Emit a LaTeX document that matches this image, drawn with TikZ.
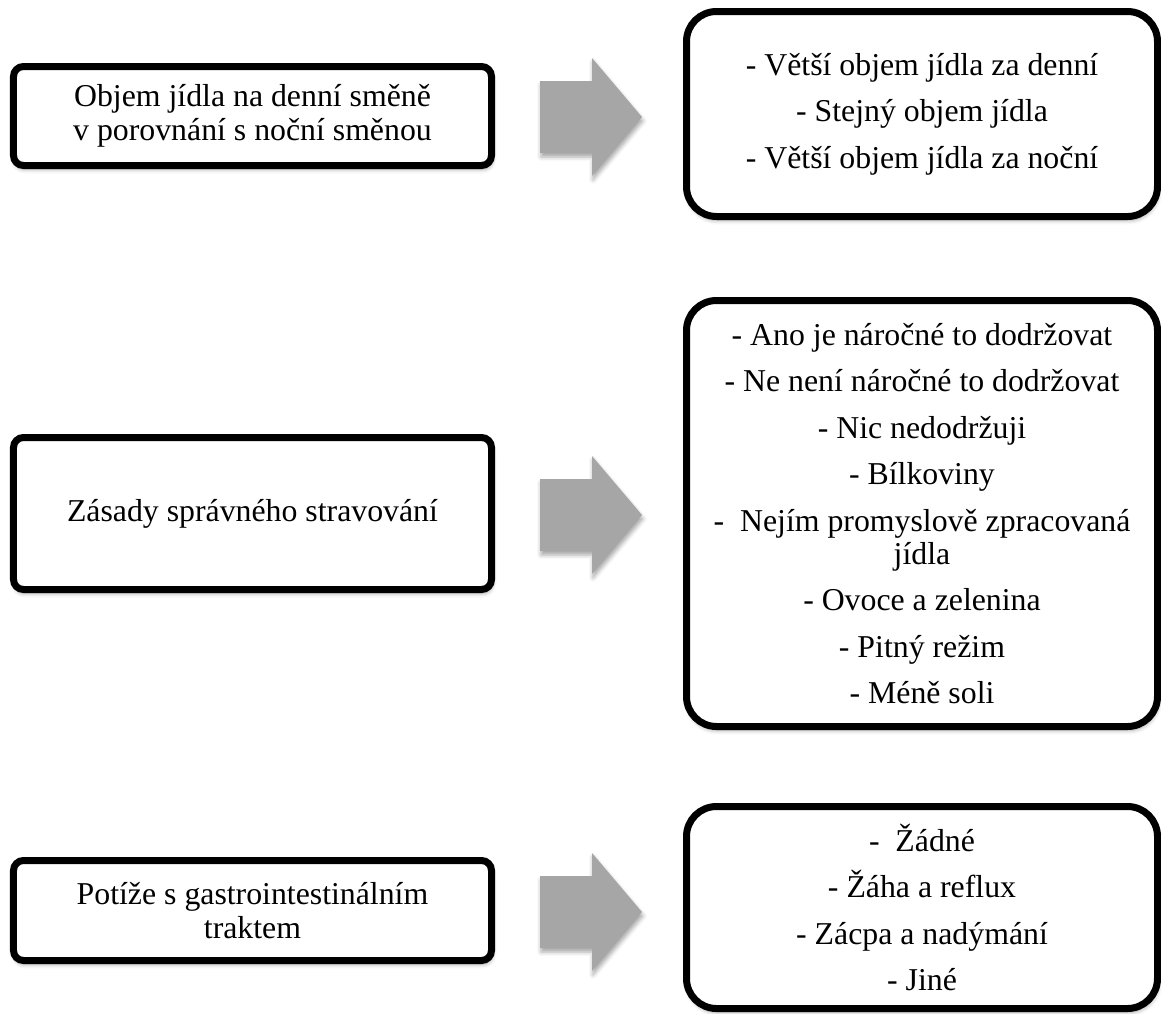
\documentclass[tikz,border=0pt]{standalone}
\usepackage{fontspec}
\setmainfont{Liberation Serif}
\usetikzlibrary{shadows.blur}
\definecolor{arrowgray}{HTML}{A6A6A6}
\begin{document}
\begin{tikzpicture}[x=1bp,y=-1bp,
  softshadow/.style={blur shadow={shadow xshift=1bp, shadow yshift=-4bp,
      shadow blur radius=4bp, shadow opacity=35}},
  box/.style={draw=black, line width=7bp, fill=white, align=center,
      inner sep=0pt, softshadow},
  leftbox/.style={box, rounded corners=10bp, minimum width=478bp,
      font=\fontsize{31.8bp}{34bp}\selectfont},
  rightbox/.style={box, rounded corners=30bp, minimum width=471bp,
      font=\fontsize{31.8bp}{46.5bp}\selectfont},
  blockarrow/.style={fill=arrowgray, softshadow},
  blockarr/.pic={
    \path[blockarrow] (-51,-36) -- (1,-36) -- (1,-59) -- (51,0)
      -- (1,59) -- (1,36) -- (-51,36) -- cycle;
  }
]
\useasboundingbox (0,0) rectangle (1161,1014);

% first row: food volume
\node[leftbox, minimum height=99bp] (l1) at (252.5,116)
  {Objem jídla na denní směně\\v porovnání s noční směnou};
\pic (a1) at (591,117) {blockarr};
\node[rightbox, minimum height=205bp] (r1) at (922,114)
  {- Větší objem jídla za denní\\- Stejný objem jídla\\- Větší objem jídla za noční};

% second row: healthy eating rules
\node[leftbox, minimum height=152bp] (l2) at (252.5,513.5)
  {Zásady správného stravování};
\pic (a2) at (591,515) {blockarr};
\node[rightbox, minimum height=426bp] (r2) at (922,513.5)
  {- Ano je náročné to dodržovat\\
   - Ne není náročné to dodržovat\\
   - Nic nedodržuji\\
   - Bílkoviny\\
   -\ \ Nejím promyslově zpracovaná\\[-13.5bp]
   jídla\\
   - Ovoce a zelenina\\
   - Pitný režim\\
   - Méně soli};

% third row: digestive problems
\node[leftbox, minimum height=100bp] (l3) at (252.5,910.5)
  {Potíže s gastrointestinálním\\traktem};
\pic (a3) at (591,912) {blockarr};
\node[rightbox, minimum height=202bp] (r3) at (922,907.5)
  {-\ \ Žádné\\- Žáha a reflux\\- Zácpa a nadýmání\\- Jiné};
\end{tikzpicture}
\end{document}
